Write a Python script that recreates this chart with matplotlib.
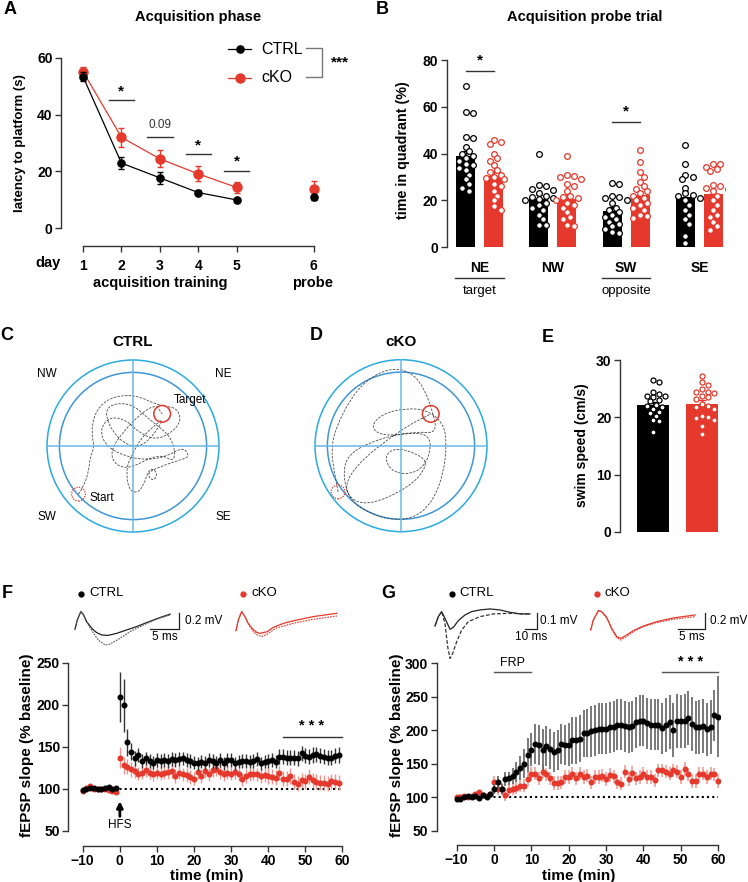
import numpy as np
import matplotlib
matplotlib.use('Agg')
import matplotlib.pyplot as plt
from matplotlib.patches import Circle, PathPatch
from matplotlib.path import Path
from matplotlib.lines import Line2D

plt.rcParams['font.family'] = ['Liberation Sans', 'DejaVu Sans']
plt.rcParams['font.size'] = 9

W, H = 748, 882
RED = '#e4392c'
LRED = '#f2938b'
AX = '#333333'

# ---------------- data ----------------
# A: acquisition phase latency (s)
days = [1, 2, 3, 4, 5]
ctrl_lat = [53.4, 22.9, 17.7, 12.5, 9.9]
ctrl_lat_err = [1.5, 2.0, 2.0, 0.8, 0.7]
cko_lat = [55.2, 32.0, 24.4, 19.1, 14.3]
cko_lat_err = [1.6, 3.3, 3.0, 2.6, 1.8]
ctrl_probe, ctrl_probe_err = 10.8, 1.0
cko_probe, cko_probe_err = 13.8, 2.7
sig_days = [2, 3, 4, 5]
sig_heights = [45, 32, 26, 20.2]
sig_labels = ['*', '0.09', '*', '*']

# B: probe trial, time in quadrant (%)
quadrants = ['NE', 'NW', 'SW', 'SE']
ctrl_quad = [38.8, 20.6, 15.7, 21.5]
ctrl_quad_err = [2.5, 1.8, 1.5, 2.4]
cko_quad = [30.6, 20.5, 22.2, 22.8]
cko_quad_err = [2.0, 1.8, 1.8, 2.0]
ctrl_quad_pts = [
    [69, 57.8, 57.2, 47, 46.5, 43, 41, 40, 39, 38, 37, 35.5, 35, 34, 33, 31, 29, 27, 25.5, 24],
    [40, 26.5, 26, 25, 24.5, 23, 22, 21.5, 21, 20.5, 20, 19, 18, 17, 16, 14, 12, 9.5, 9.5],
    [27.5, 27, 22, 21.5, 21, 20, 19, 17, 16, 15, 14, 13, 12, 11, 10, 9, 8, 6.5, 6],
    [43.5, 35.5, 31, 30, 29, 25.5, 23, 22.5, 22, 21, 20, 18, 16, 14, 12, 10, 5, 2],
]
cko_quad_pts = [
    [46, 45, 44, 40, 38, 37, 35, 33, 32, 31, 30, 29.5, 29, 27, 26, 24, 22, 20, 17.5, 16],
    [39, 31, 30.5, 30, 29, 27, 26, 24, 22, 21.5, 21, 20, 19, 18, 17, 15, 13, 12, 9.5, 9],
    [41.5, 36.5, 32, 30, 28, 26, 25, 24, 23, 22, 21, 20, 19, 18, 17, 16, 14, 13.5, 12.5],
    [35.5, 35.5, 34.5, 33.5, 32.5, 26.5, 26, 25.5, 25, 24, 22, 20, 18, 16, 14, 13, 11, 9, 7.5],
]

# E: swim speed (cm/s)
speed_mean = [22.1, 22.4]
speed_err = [0.6, 0.6]
ctrl_speed = [26.5, 26.2, 24.4, 24, 23.8, 23.7, 23.5, 23, 22.8, 22.2, 22, 21.8, 21.5, 21, 20.8, 20.2, 19.5, 19.4, 17.4]
cko_speed = [27.3, 26.2, 25.6, 25, 24.5, 24.4, 24.3, 23.8, 23.5, 23.2, 22.3, 22, 21.8, 21.5, 20.3, 20, 19.8, 19.5, 18.5, 17]

# C/D: swim paths in pool units (outer wall radius = 1)
c_path_x = [-0.634, -0.564, -0.514, -0.498, -0.447, -0.486, -0.447, -0.311, -0.117, 0.078, 0.233, 0.389, 0.506,
            0.564, 0.467, 0.272, 0.078, -0.078, -0.272, -0.389, -0.311, -0.078, 0.156, 0.389, 0.584, 0.661, 0.545,
            0.311, 0.156, 0.233, 0.292, 0.195, 0.117, 0.039, -0.058, -0.078, 0.0, 0.078, 0.233, 0.389,
            0.10, -0.20, -0.36, -0.05, 0.20, 0.46, 0.50, 0.30, -0.10, -0.30, -0.05, 0.25, 0.339]
c_path_y = [-0.560, -0.455, -0.280, -0.125, -0.008, 0.148, 0.381, 0.537, 0.595, 0.576, 0.498, 0.459, 0.440,
            0.304, 0.167, 0.070, 0.148, 0.304, 0.342, 0.187, -0.008, -0.125, -0.163, -0.125, -0.008, -0.125, -0.163,
            -0.241, -0.319, -0.416, -0.319, -0.241, -0.475, -0.553, -0.494, -0.241, -0.086, 0.070, 0.226, 0.342,
            -0.05, 0.08, 0.45, 0.52, 0.30, 0.10, -0.20, -0.08, -0.30, -0.10, 0.25, 0.50, 0.374]
d_path_x = [-0.732, -0.790, -0.809, -0.751, -0.595, -0.401, -0.128, 0.105, 0.261, 0.377, 0.416, 0.183, -0.206,
            -0.362, -0.206, 0.066, 0.300, 0.494, 0.533, 0.494, 0.377, 0.183, -0.089, -0.362, -0.595, -0.673, -0.634,
            -0.401, -0.012, 0.339, 0.339, 0.183, -0.089, -0.206, -0.051, 0.261, 0.300, 0.105, -0.401, -0.673, -0.556,
            -0.012, 0.346]
d_path_y = [-0.537, -0.245, -0.012, 0.222, 0.533, 0.767, 0.903, 0.864, 0.689, 0.377, 0.144, 0.163, 0.105,
            0.222, 0.377, 0.436, 0.416, 0.261, 0.027, -0.323, -0.634, -0.829, -0.868, -0.790, -0.634, -0.362, -0.128,
            0.027, 0.144, 0.144, -0.128, -0.323, -0.323, -0.128, -0.012, -0.128, -0.245, -0.479, -0.712, -0.556, -0.245,
            0.183, 0.370]
c_target, c_start = (0.339, 0.374), (-0.634, -0.560)
d_target, d_start = (0.346, 0.370), (-0.732, -0.537)

# F: LTP after HFS
f_time = np.arange(-10, 60)
f_ctrl = [98, 100, 101, 101, 100, 100, 101, 102, 99, 101,
          209, 199, 155, 144, 136, 140, 133, 136, 133, 131,
          134, 133, 134, 133, 135, 134, 135, 136, 134, 133,
          131, 130, 132, 131, 134, 133, 131, 134, 130, 134,
          134, 130, 132, 133, 133, 132, 133, 135, 130, 132,
          133, 134, 132, 138, 138, 137, 137, 137, 136, 142,
          139, 138, 140, 141, 139, 138, 137, 137, 139, 140]
f_ctrl_err = [2, 2, 2, 2, 2, 2, 2, 2, 2, 2,
              30, 32, 16, 10, 9, 8, 8, 8, 8, 8,
              8, 8, 8, 8, 8, 8, 8, 8, 8, 8,
              8, 8, 8, 8, 8, 8, 8, 8, 8, 8,
              8, 8, 8, 8, 8, 8, 8, 8, 8, 8,
              8, 8, 8, 9, 9, 9, 9, 9, 9, 9,
              9, 9, 9, 9, 9, 9, 9, 9, 9, 9]
f_cko = [97, 101, 103, 100, 100, 99, 99, 98, 97, 96,
         137, 128, 126, 123, 121, 118, 119, 122, 119, 117,
         119, 118, 119, 120, 121, 115, 119, 117, 116, 114,
         112, 120, 115, 121, 117, 122, 123, 120, 117, 119,
         118, 120, 117, 111, 115, 117, 118, 117, 115, 116,
         115, 114, 113, 119, 112, 112, 115, 108, 106, 110,
         109, 114, 110, 108, 107, 107, 106, 109, 108, 107]
f_cko_err = [2, 2, 2, 2, 2, 2, 2, 2, 2, 2,
             12, 10, 9, 9, 8, 8, 8, 8, 8, 8,
             8, 8, 8, 8, 8, 8, 8, 8, 8, 8,
             8, 8, 8, 8, 8, 8, 8, 8, 8, 8,
             8, 8, 8, 8, 8, 8, 8, 8, 8, 8,
             9, 9, 9, 9, 9, 9, 9, 9, 9, 9,
             9, 9, 9, 9, 9, 9, 9, 9, 9, 9]

# G: potentiation after FRP
g_time = np.arange(-10, 61)
g_ctrl = [98, 98, 100, 102, 101, 102, 99, 103, 100, 104,
          112, 122, 112, 127, 128, 132, 138, 144, 150, 163,
          171, 179, 178, 171, 176, 172, 167, 170, 179, 178,
          178, 185, 185, 187, 195, 196, 198, 200, 202, 202,
          202, 204, 205, 208, 208, 206, 204, 206, 212, 214,
          214, 210, 208, 208, 208, 203, 208, 212, 200, 214,
          213, 214, 218, 209, 204, 205, 206, 201, 205, 222, 220]
g_ctrl_err = [3, 3, 3, 3, 3, 3, 3, 3, 3, 3,
              8, 10, 8, 10, 10, 12, 15, 18, 22, 25,
              25, 30, 30, 30, 30, 30, 30, 30, 30, 30,
              32, 35, 35, 35, 35, 36, 38, 38, 38, 38,
              38, 38, 38, 38, 38, 38, 38, 38, 38, 38,
              38, 38, 38, 38, 38, 38, 40, 40, 40, 40,
              40, 40, 40, 40, 40, 40, 40, 40, 40, 38, 60]
g_cko = [100, 101, 102, 101, 102, 104, 108, 103, 102, 105,
         122, 112, 112, 103, 110, 112, 113, 116, 117, 127,
         135, 135, 128, 138, 134, 128, 121, 121, 122, 130,
         130, 135, 128, 135, 130, 132, 122, 130, 130, 132,
         127, 133, 131, 122, 120, 138, 127, 136, 128, 130,
         135, 130, 130, 125, 140, 140, 138, 135, 140, 138,
         130, 142, 134, 124, 124, 135, 135, 130, 135, 134, 124]
g_cko_err = [3, 3, 3, 3, 3, 3, 3, 3, 3, 3,
             9, 9, 9, 9, 9, 9, 9, 9, 10, 10,
             10, 10, 10, 10, 10, 10, 10, 10, 10, 10,
             10, 10, 10, 10, 10, 10, 10, 10, 10, 10,
             10, 10, 10, 10, 10, 10, 10, 10, 10, 10,
             10, 10, 10, 10, 10, 10, 10, 10, 10, 10,
             10, 10, 10, 10, 10, 10, 10, 10, 10, 10, 10]

# example fEPSP traces (ms, mV)
fc_t = [0, 0.4, 1.0, 1.4, 2.0, 2.9, 3.7, 4.6, 5.7, 7.2, 8.9, 10.6, 12.4, 14.7, 16.4]
fc_v = [-0.07, 0.04, 0.14, 0.11, 0.02, -0.06, -0.11, -0.14, -0.145, -0.12, -0.08, -0.04, 0.01, 0.07, 0.11]
fc_t2 = [0, 0.4, 1.0, 1.55, 2.3, 3.2, 4.0, 5.2, 6.0, 7.5, 9.5, 11.8, 14.1, 16.4]
fc_v2 = [-0.07, 0.04, 0.14, 0.09, -0.02, -0.12, -0.2, -0.26, -0.25, -0.19, -0.1, -0.02, 0.05, 0.1]
fk_t = [0, 0.4, 0.98, 1.55, 2.1, 2.9, 3.6, 4.1, 4.8, 5.4, 6.4, 8.2, 9.9, 13.3, 17.4]
fk_v = [-0.088, 0.04, 0.14, 0.08, 0.0, -0.07, -0.11, -0.12, -0.11, -0.1, -0.05, 0.0, 0.03, 0.08, 0.12]
fk_t2 = [0, 0.4, 0.98, 1.67, 2.3, 3.0, 3.7, 4.4, 5.2, 5.9, 7.0, 9.9, 13.3, 17.4]
fk_v2 = [-0.088, 0.04, 0.14, 0.06, -0.03, -0.1, -0.14, -0.16, -0.136, -0.104, -0.056, 0.0, 0.048, 0.088]
gc_t = [0, 2.7, 5.4, 8.1, 12.2, 14.9, 19.0, 24.4, 29.8, 36.6, 44.7, 52.8, 60.9, 69.1, 77.2]
gc_v = [-0.016, 0.04, 0.07, 0.03, -0.036, -0.024, 0.016, 0.05, 0.07, 0.08, 0.086, 0.08, 0.066, 0.056, 0.056]
gc_t2 = [0, 2.7, 5.4, 8.1, 10.3, 12.2, 14.4, 17.6, 21.7, 27.1, 36.6, 47.4, 61.0, 77.2]
gc_v2 = [-0.016, 0.04, 0.07, 0.0, -0.14, -0.21, -0.18, -0.11, -0.04, 0.01, 0.04, 0.056, 0.06, 0.056]
gk_t = [0, 0.5, 1.44, 2.06, 3.0, 3.94, 4.88, 5.63, 6.75, 8.0, 9.9, 12.4, 15.5, 19.6]
gk_v = [-0.08, 0.04, 0.152, 0.14, 0.072, -0.06, -0.16, -0.18, -0.14, -0.088, -0.032, 0.02, 0.064, 0.1]
gk_v2 = [-0.08, 0.04, 0.152, 0.136, 0.06, -0.072, -0.172, -0.2, -0.16, -0.1, -0.04, 0.008, 0.048, 0.08]

# ---------------- helpers ----------------
fig = plt.figure(figsize=(W / 100, H / 100), dpi=100)


def px_axes(x0, y0, x1, y1):
    return fig.add_axes([x0 / W, 1 - y1 / H, (x1 - x0) / W, (y1 - y0) / H])


def ptext(x, y, s, **kw):
    kw.setdefault('ha', 'center')
    kw.setdefault('va', 'center')
    fig.text(x / W, 1 - y / H, s, **kw)


def style(ax, ybounds, xbounds=None, tsize=10):
    for s in ('top', 'right'):
        ax.spines[s].set_visible(False)
    for s in ('left', 'bottom'):
        ax.spines[s].set_linewidth(1.0)
        ax.spines[s].set_color(AX)
    ax.tick_params(direction='out', length=4, width=1, color=AX, labelsize=tsize, pad=2)
    ax.spines['left'].set_bounds(*ybounds)
    if xbounds is None:
        ax.spines['bottom'].set_visible(False)
        ax.tick_params(axis='x', length=0, labelbottom=False)
    else:
        ax.spines['bottom'].set_bounds(*xbounds)
    plt.setp(ax.get_xticklabels() + ax.get_yticklabels(), fontweight='bold')
    ax.patch.set_alpha(0)


def swarm(ax, vals, center, d_px):
    # simple beeswarm: shift points sideways until they stop overlapping (pixel space)
    trans = ax.transData
    inv = trans.inverted()
    placed = []
    xs = []
    for v in vals:
        cx, cy = trans.transform((center, v))
        k = 0
        while True:
            offs = [0] if k == 0 else [k * 0.6 * d_px, -k * 0.6 * d_px]
            ok = None
            for o in offs:
                if all((cx + o - px) ** 2 + (cy - py) ** 2 >= (0.95 * d_px) ** 2 for px, py in placed):
                    ok = o
                    break
            if ok is not None:
                placed.append((cx + ok, cy))
                xs.append(inv.transform((cx + ok, cy))[0])
                break
            k += 1
    return xs


# ---------------- A ----------------
axA = px_axes(61, 50, 322, 246)
axA.set_xlim(0.427, 7.22)
axA.set_ylim(-6.35, 62.8)
probe_pos = 7
axA.errorbar(days, cko_lat, yerr=cko_lat_err, color=RED, marker='o', ms=6.5, lw=0.9,
             elinewidth=1, capsize=2, zorder=3)
axA.errorbar(days, ctrl_lat, yerr=ctrl_lat_err, color='k', marker='o', ms=5.2, lw=0.9,
             elinewidth=1, capsize=2, zorder=4)
axA.errorbar([probe_pos], [cko_probe], yerr=[cko_probe_err], color=RED, marker='o', ms=6.5,
             elinewidth=1, capsize=2, zorder=3)
axA.errorbar([probe_pos], [ctrl_probe], yerr=[ctrl_probe_err], color='k', marker='o', ms=5.2,
             elinewidth=1, capsize=2, zorder=4)
for d, h, lab in zip(sig_days, sig_heights, sig_labels):
    axA.plot([d - 0.33, d + 0.33], [h, h], color=AX, lw=1)
    if lab == '*':
        axA.text(d, h + 0.8, lab, ha='center', va='bottom', fontsize=11, fontweight='bold')
    else:
        axA.text(d, h + 2.2, lab, ha='center', va='bottom', fontsize=8.5, color='#333')
axA.set_yticks([0, 20, 40, 60])
axA.set_xticks(days + [probe_pos])
axA.set_xticklabels(['1', '2', '3', '4', '5', '6'])
style(axA, (0, 60), (1, 7))
axA.tick_params(axis='x', pad=5)
ptext(20, 143, 'latency to platform (s)', rotation=90, fontsize=9.5, fontweight='bold')
ptext(48, 263, 'day', fontsize=10.5, fontweight='bold')
ptext(160, 283, 'acquisition training', fontsize=10.5, fontweight='bold')
ptext(313, 283, 'probe', fontsize=10.5, fontweight='bold')
ptext(198, 17, 'Acquisition phase', fontsize=10.5, fontweight='bold')
ptext(10, 10, 'A', fontsize=13, fontweight='bold')
# legend
for yy, col, ms, lab in [(49, 'k', 5.2, 'CTRL'), (78, RED, 6.5, 'cKO')]:
    fig.add_artist(Line2D([228 / W, 251 / W], [1 - yy / H] * 2, color=col, lw=0.9))
    fig.add_artist(Line2D([239.5 / W], [1 - yy / H], color=col, marker='o', ms=ms))
    ptext(261, yy, lab, ha='left', fontsize=11.5)
fig.add_artist(Line2D([306 / W, 322 / W, 322 / W, 306 / W],
                      [1 - 48 / H, 1 - 48 / H, 1 - 77 / H, 1 - 77 / H], color='#777', lw=1))
ptext(340, 62, '***', fontsize=11, fontweight='bold')

# ---------------- B ----------------
axB = px_axes(446.7, 50, 725, 247.3)
axB.set_xlim(-0.45, 3.35)
axB.set_ylim(0, 84.3)
xq = np.arange(len(quadrants))
off, bw = 0.19, 0.26
axB.bar(xq - off, ctrl_quad, width=bw, color='k', zorder=1)
axB.bar(xq + off, cko_quad, width=bw, color=RED, zorder=1)
axB.errorbar(xq - off, ctrl_quad, yerr=ctrl_quad_err, fmt='none', ecolor='k', elinewidth=1, capsize=2.5, zorder=2)
axB.errorbar(xq + off, cko_quad, yerr=cko_quad_err, fmt='none', ecolor=RED, elinewidth=1, capsize=2.5, zorder=2)
axB.set_yticks([0, 20, 40, 60, 80])
style(axB, (0, 80))
for i in range(len(quadrants)):
    xs = swarm(axB, ctrl_quad_pts[i], i - off, 6.0)
    axB.scatter(xs, ctrl_quad_pts[i], s=17, facecolor='white', edgecolor='k', lw=0.9, zorder=3)
    xs = swarm(axB, cko_quad_pts[i], i + off, 6.0)
    axB.scatter(xs, cko_quad_pts[i], s=17, facecolor='white', edgecolor=RED, lw=0.9, zorder=3)
for i, h in [(0, 75.5), (2, 53.4)]:
    axB.plot([i - off, i + off], [h, h], color=AX, lw=1)
    axB.text(i, h + 1.5, '*', ha='center', va='bottom', fontsize=11, fontweight='bold')
xt = axB.get_xaxis_transform()
for i, q in enumerate(quadrants):
    axB.text(i, -0.105, q, transform=xt, ha='center', va='center', fontsize=10, fontweight='bold')
for i, lab in [(0, 'target'), (2, 'opposite')]:
    axB.plot([i - 0.33, i + 0.33], [-0.155, -0.155], transform=xt, color=AX, lw=1, clip_on=False)
    axB.text(i, -0.222, lab, transform=xt, ha='center', va='center', fontsize=9.5)
ptext(403, 150, 'time in quadrant (%)', rotation=90, fontsize=10.3, fontweight='bold')
ptext(585, 17, 'Acquisition probe trial', fontsize=10.5, fontweight='bold')
ptext(382, 10, 'B', fontsize=13, fontweight='bold')

# ---------------- C / D ----------------
POOL_OUT, POOL_IN, POOL_X = '#29abe2', '#3d96d6', '#6ab8e4'


def draw_pool(ax, px_, py_, target, start):
    ax.set_xlim(-1.163, 1.163)
    ax.set_ylim(-1.163, 1.163)
    ax.set_aspect('equal')
    ax.axis('off')
    ax.add_patch(Circle((0, 0), 1.0, fill=False, ec=POOL_OUT, lw=1.1))
    ax.add_patch(Circle((0, 0), 0.856, fill=False, ec=POOL_IN, lw=1.1))
    ax.plot([-1, 1], [0, 0], color=POOL_X, lw=1.1)
    ax.plot([0, 0], [-1, 1], color=POOL_X, lw=1.1)
    pts = np.column_stack([px_, py_])
    verts, codes = [pts[0]], [Path.MOVETO]
    for i in range(1, len(pts) - 1):
        verts += [pts[i], (pts[i] + pts[i + 1]) / 2]
        codes += [Path.CURVE3, Path.CURVE3]
    verts.append(pts[-1])
    codes.append(Path.LINETO)
    ax.add_patch(PathPatch(Path(verts, codes), fill=False, ec='#4a4a4a', lw=0.6, ls=(0, (3, 1.5))))
    ax.add_patch(Circle(target, 0.097, fill=False, ec=RED, lw=1.1))
    ax.add_patch(Circle(start, 0.08, fill=False, ec=RED, lw=0.9, ls=(0, (1, 1))))


axC = px_axes(33, 346, 233, 546)
draw_pool(axC, c_path_x, c_path_y, c_target, c_start)
axD = px_axes(301, 345.7, 501, 545.7)
draw_pool(axD, d_path_x, d_path_y, d_target, d_start)
for x, y, s in [(47, 374, 'NW'), (223, 374, 'NE'), (47, 517, 'SW'), (223, 517, 'SE')]:
    ptext(x, y, s, fontsize=8.5)
ptext(174, 400, 'Target', ha='left', fontsize=8.5)
ptext(90, 498, 'Start', ha='left', fontsize=8.5)
ptext(133, 342, 'CTRL', fontsize=11, fontweight='bold')
ptext(401, 342, 'cKO', fontsize=11, fontweight='bold')
ptext(7, 336, 'C', fontsize=13, fontweight='bold')
ptext(316, 336, 'D', fontsize=13, fontweight='bold')

# ---------------- E ----------------
axE = px_axes(620, 355, 725, 531.7)
axE.set_xlim(-0.67, 1.47)
axE.set_ylim(0, 30.9)
axE.bar([0, 1], speed_mean, width=0.667, color=['k', RED], zorder=1)
axE.errorbar([0], speed_mean[:1], yerr=speed_err[:1], fmt='none', ecolor='k', elinewidth=1, capsize=3, zorder=2)
axE.errorbar([1], speed_mean[1:], yerr=speed_err[1:], fmt='none', ecolor=RED, elinewidth=1, capsize=3, zorder=2)
xs = swarm(axE, ctrl_speed, 0, 5.2)
axE.scatter(xs, ctrl_speed, s=13, facecolor='white', edgecolor='k', lw=0.9, zorder=3)
xs = swarm(axE, cko_speed, 1, 5.2)
axE.scatter(xs, cko_speed, s=13, facecolor='white', edgecolor=RED, lw=0.9, zorder=3)
axE.set_yticks([0, 10, 20, 30])
style(axE, (0, 30))
ptext(582, 445, 'swim speed (cm/s)', rotation=90, fontsize=10, fontweight='bold')
ptext(548, 337, 'E', fontsize=13, fontweight='bold')

# ---------------- F ----------------
axF = px_axes(68.3, 655, 345, 845.7)
axF.set_xlim(-13.9, 60.7)
axF.set_ylim(32.1, 259)
axF.plot([-10, 60], [100, 100], color='k', lw=1.5, ls=(0, (1, 1.5)), zorder=1)
axF.errorbar(f_time, f_ctrl, yerr=f_ctrl_err, fmt='o', ms=3.3, color='k', ecolor='#333',
             elinewidth=1, capsize=0, zorder=3)
axF.errorbar(f_time, f_cko, yerr=f_cko_err, fmt='o', ms=3.3, color=RED, ecolor=LRED,
             elinewidth=1, capsize=0, zorder=2)
axF.annotate('', xy=(0, 85), xytext=(0, 67),
             arrowprops=dict(arrowstyle='-|>', lw=2, color='k', mutation_scale=9,
                             shrinkA=0, shrinkB=0))
axF.text(0, 57, 'HFS', ha='center', va='center', fontsize=8.5)
axF.plot([44, 60], [162, 162], color=AX, lw=1)
axF.text(51.7, 166, '* * *', ha='center', va='bottom', fontsize=10.5, fontweight='bold')
axF.set_yticks([50, 100, 150, 200, 250])
axF.set_xticks([-10, 0, 10, 20, 30, 40, 50, 60])
style(axF, (50, 250), (-10, 60), tsize=10)
axF.set_xlabel('time (min)', fontsize=11, fontweight='bold', labelpad=1)
ptext(27, 745, 'fEPSP slope (% baseline)', rotation=90, fontsize=11, fontweight='bold')
ptext(7, 593, 'F', fontsize=13, fontweight='bold')

# ---------------- G ----------------
axG = px_axes(436.7, 655, 720, 845)
axG.set_xlim(-15.36, 60.5)
axG.set_ylim(28.7, 312)
axG.plot([-10, 60], [100, 100], color='k', lw=1.5, ls=(0, (1, 1.5)), zorder=1)
axG.errorbar(g_time, g_ctrl, yerr=g_ctrl_err, fmt='o', ms=3.3, color='k', ecolor='#555',
             elinewidth=1.1, capsize=0, zorder=3)
axG.errorbar(g_time, g_cko, yerr=g_cko_err, fmt='o', ms=3.3, color=RED, ecolor=LRED,
             elinewidth=1.1, capsize=0, zorder=2)
axG.plot([0, 10], [286, 286], color='#555', lw=1)
axG.text(5, 300, 'FRP', ha='center', va='center', fontsize=9)
axG.plot([45, 60], [286, 286], color='#555', lw=1)
axG.text(52.5, 291, '* * *', ha='center', va='bottom', fontsize=10.5, fontweight='bold')
axG.set_yticks([50, 100, 150, 200, 250, 300])
axG.set_xticks([-10, 0, 10, 20, 30, 40, 50, 60])
style(axG, (50, 300), (-10, 60), tsize=10)
axG.set_xlabel('time (min)', fontsize=11, fontweight='bold', labelpad=1)
ptext(397, 745, 'fEPSP slope (% baseline)', rotation=90, fontsize=11, fontweight='bold')
ptext(388, 593, 'G', fontsize=13, fontweight='bold')

# ---------------- traces ----------------


def trace_axes(x0, x1, t0_px, px_ms, px_mv, y0=600, y1=665, v0_px=623.3):
    ax = px_axes(x0, y0, x1, y1)
    ax.set_xlim((x0 - t0_px) / px_ms, (x1 - t0_px) / px_ms)
    ax.set_ylim(-(y1 - v0_px) / px_mv, (v0_px - y0) / px_mv)
    ax.axis('off')
    return ax


def scale_bar(ax, t_right, v_bottom, dt, dv, lab_v, lab_t):
    ax.plot([t_right - dt, t_right, t_right], [v_bottom, v_bottom, v_bottom + dv], color='#222', lw=0.9)
    ax.text(t_right + dt * 0.2, v_bottom + dv * 0.5, lab_v, ha='left', va='center', fontsize=8.5)
    ax.text(t_right - dt * 0.5, v_bottom - dv * 0.12, lab_t, ha='center', va='top', fontsize=8.5)


tf1 = trace_axes(70, 230, 75, 5.8, 83.5)
tf1.plot(fc_t, fc_v, color='#222', lw=0.9)
tf1.plot(fc_t2, fc_v2, color='#555', lw=0.8, ls=(0, (1.5, 1)))
scale_bar(tf1, 17.9, -0.072, 5, 0.2, '0.2 mV', '5 ms')
tf2 = trace_axes(230, 345, 236, 5.8, 83.5)
tf2.plot(fk_t, fk_v, color=RED, lw=0.9)
tf2.plot(fk_t2, fk_v2, color=RED, lw=0.8, ls=(0, (1.5, 1)))
tg1 = trace_axes(430, 590, 435, 1.23, 167)
tg1.plot(gc_t, gc_v, color='#222', lw=0.9)
tg1.plot(gc_t2, gc_v2, color='#333', lw=0.9, ls=(0, (3, 1.5)))
scale_bar(tg1, 83.2, -0.036, 10, 0.1, '0.1 mV', '10 ms')
tg2 = trace_axes(585, 748, 590.7, 5.33, 83.5)
tg2.plot(gk_t, gk_v, color=RED, lw=0.9)
tg2.plot(gk_t, gk_v2, color=RED, lw=0.8, ls=(0, (1.5, 1)))
scale_bar(tg2, 21.4, -0.072, 5, 0.2, '0.2 mV', '5 ms')

for xd, col, lab in [(81, 'k', 'CTRL'), (243.3, RED, 'cKO'), (451.7, 'k', 'CTRL'), (596.7, RED, 'cKO')]:
    fig.add_artist(Line2D([xd / W], [1 - 593.5 / H], color=col, marker='o', ms=3.5))
    ptext(xd + 8, 593.5, lab, ha='left', fontsize=9.5)

fig.savefig('out.png', dpi=100)
